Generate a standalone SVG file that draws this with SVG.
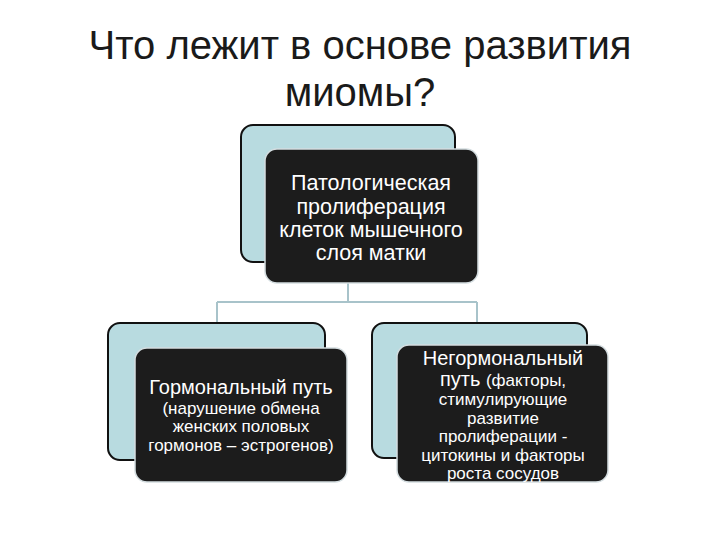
<svg xmlns="http://www.w3.org/2000/svg" width="720" height="540" viewBox="0 0 720 540">
<style>
.title{font-family:"Liberation Sans",Arial,sans-serif;font-size:40px;fill:#1a1a1a;text-anchor:middle}
.back{fill:#b8dbe0;stroke:#111;stroke-width:2}
.front{fill:#1c1c1c;stroke:#d4dde0;stroke-width:1.5}
.t{font-family:"Liberation Sans",Arial,sans-serif;fill:#fff;text-anchor:middle}
.big{font-size:21.5px}
.mid{font-size:20px}
.sm{font-size:17px}
.conn{fill:none;stroke:#a8c3ca;stroke-width:2}
</style>
<rect width="720" height="540" fill="#fff"/>
<text class="title" x="360" y="59">Что лежит в основе развития</text>
<text class="title" x="360" y="106">миомы?</text>
<g id="connectors">
<path class="conn" d="M348 283V302M217 302H477M217 302V323M477 302V323"/>
</g>
<g id="node-top">
<rect class="back" x="241" y="125" width="214" height="137" rx="12"/>
<rect class="front" x="265" y="149" width="213" height="134" rx="12"/>
<text class="t big" x="371" y="190">Патологическая</text>
<text class="t big" x="371" y="214">пролиферация</text>
<text class="t big" x="371" y="237">клеток мышечного</text>
<text class="t big" x="371" y="260">слоя матки</text>
</g>
<g id="node-left">
<rect class="back" x="108" y="323" width="217" height="137" rx="12"/>
<rect class="front" x="135" y="348" width="212" height="134" rx="12"/>
<text class="t mid" x="241" y="394">Гормональный путь</text>
<text class="t sm" x="241" y="414">(нарушение обмена</text>
<text class="t sm" x="241" y="432">женских половых</text>
<text class="t sm" x="241" y="451">гормонов – эстрогенов)</text>
</g>
<g id="node-right">
<rect class="back" x="372" y="323" width="215" height="135" rx="12"/>
<rect class="front" x="397" y="345" width="211" height="137" rx="12"/>
<text class="t mid" x="503" y="365">Негормональный</text>
<text class="t" x="503" y="386"><tspan class="mid">путь </tspan><tspan class="sm">(факторы,</tspan></text>
<text class="t sm" x="503" y="405">стимулирующие</text>
<text class="t sm" x="503" y="424">развитие</text>
<text class="t sm" x="503" y="442">пролиферации -</text>
<text class="t sm" x="503" y="461">цитокины и факторы</text>
<text class="t sm" x="503" y="479">роста сосудов</text>
</g>
</svg>
